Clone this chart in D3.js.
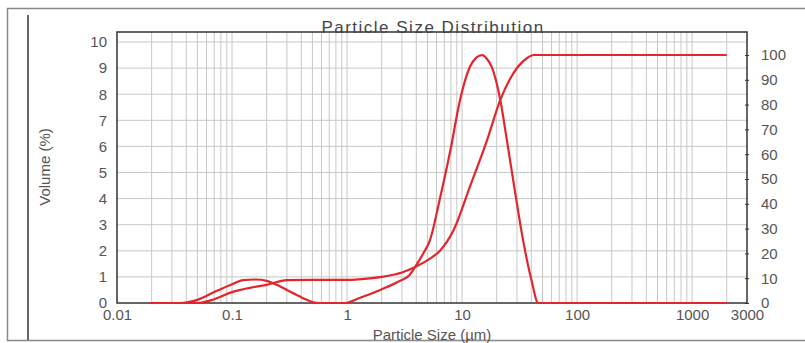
<!DOCTYPE html>
<html>
<head>
<meta charset="utf-8">
<script src="https://cdn.jsdelivr.net/npm/d3@7"></script>
<style>
  body { margin: 0; background: #fff; }
  text { font-family: "Liberation Sans", Arial, sans-serif; fill: #555; }
</style>
</head>
<body>
<script>
// particle size (um) and volume (%) for the frequency curve
const distSize = [0.019, 0.035, 0.05, 0.07, 0.1, 0.125, 0.16, 0.2, 0.25, 0.3, 0.4, 0.56, 0.96, 1.3, 1.94, 2.9, 3.5, 3.9, 4.6, 5.26, 6.38, 7.92, 9.6, 11.7, 13.3, 14.9, 16.5, 18.1, 21.5, 24.5, 28.7, 33.9, 40.1, 46, 100, 1000, 2000]
const distVol = [0, 0, 0.12, 0.42, 0.72, 0.88, 0.9, 0.85, 0.68, 0.5, 0.22, 0, 0, 0.2, 0.5, 0.85, 1.07, 1.38, 1.9, 2.41, 3.95, 5.86, 7.78, 9.05, 9.4, 9.5, 9.35, 9.05, 7.78, 6.25, 4.33, 2.41, 0.88, 0, 0, 0, 0]

// cumulative volume (%) on the right axis
const cumSize = [0.019, 0.05, 0.07, 0.1, 0.15, 0.2, 0.3, 0.5, 1.0, 1.5, 2.0, 3.0, 3.9, 5.3, 6.4, 8.45, 11.7, 16.5, 21.5, 27.9, 36.6, 42, 100, 1000, 2000]
const cumVol = [0, 0, 1.5, 4.4, 6.3, 7.3, 9.2, 9.3, 9.3, 9.8, 10.5, 12.3, 14.5, 18, 21, 29.4, 46.9, 65.7, 81.9, 92.6, 98.7, 100, 100, 100, 100]

const xTicks = [0.01, 0.1, 1, 10, 100, 1000, 3000]
const xTickLabels = ['0.01', '0.1', '1', '10', '100', '1000', '3000']
const yLeftTicks = [0, 1, 2, 3, 4, 5, 6, 7, 8, 9, 10]
const yRightTicks = [0, 10, 20, 30, 40, 50, 60, 70, 80, 90, 100]

const m = { left: 117, right: 747, top: 32, bottom: 303 }

const svg = d3.select('body').append('svg')
    .attr('width', 805)
    .attr('height', 343)

// outer frame: top, left and bottom edges only
svg.append('path')
    .attr('d', 'M805,8.5 H7.5 V340.5 H805')
    .attr('fill', 'none')
    .attr('stroke', '#888')
    .attr('stroke-width', 1.5)
svg.append('line')
    .attr('x1', 28).attr('x2', 28)
    .attr('y1', 15).attr('y2', 340)
    .attr('stroke', '#333')
    .attr('stroke-width', 1.5)

const x = d3.scaleLog()
    .domain([0.01, 3000])
    .range([m.left, m.right])

const y = d3.scaleLinear()
    .domain([0, 10])
    .range([m.bottom, 42])

const y2 = d3.scaleLinear()
    .domain([0, 100])
    .range([m.bottom, 55])

const g = svg.append('g')

// vertical grid: 1..9 per decade
const minor = []
for (let e = -2; e <= 3; e++) {
    for (let k = 1; k <= 9; k++) {
        const v = k * Math.pow(10, e)
        if (v > 0.01 && v < 3000) minor.push(v)
    }
}
g.selectAll('.vgrid')
    .data(minor)
    .enter()
    .append('line')
        .attr('x1', d => x(d)).attr('x2', d => x(d))
        .attr('y1', m.top).attr('y2', m.bottom)
        .attr('stroke', '#c8c8c8')
        .attr('stroke-width', 1)

g.selectAll('.hgrid')
    .data(yLeftTicks.slice(1))
    .enter()
    .append('line')
        .attr('x1', m.left).attr('x2', m.right)
        .attr('y1', d => y(d)).attr('y2', d => y(d))
        .attr('stroke', '#c8c8c8')
        .attr('stroke-width', 1)

// title sits on the top border
svg.append('text')
    .attr('x', 433).attr('y', 33)
    .attr('text-anchor', 'middle')
    .attr('font-size', 17)
    .attr('letter-spacing', 1.5)
    .style('fill', '#444')
    .text('Particle Size Distribution')

// plot frame
g.append('rect')
    .attr('x', m.left).attr('y', m.top)
    .attr('width', m.right - m.left)
    .attr('height', m.bottom - m.top)
    .attr('fill', 'none')
    .attr('stroke', '#333')
    .attr('stroke-width', 1.5)

// left axis labels
const leftAxis = d3.axisLeft(y).tickValues(yLeftTicks).tickSize(0).tickPadding(10)
const la = svg.append('g').attr('transform', `translate(${m.left},0)`).call(leftAxis)
la.select('.domain').remove()
la.selectAll('text').attr('font-size', 15).attr('font-family', null)

// right axis with small ticks on the frame
const rightAxis = d3.axisRight(y2).tickValues(yRightTicks).tickSizeInner(-4).tickSizeOuter(0).tickPadding(14)
const ra = svg.append('g').attr('transform', `translate(${m.right},0)`).call(rightAxis)
ra.select('.domain').remove()
ra.selectAll('line').attr('stroke', '#333').attr('transform', 'translate(2,0)')
ra.selectAll('text').attr('font-size', 15).attr('font-family', null)

// bottom axis labels
const bottomAxis = d3.axisBottom(x).tickValues(xTicks).tickFormat((d, i) => xTickLabels[i]).tickSize(0).tickPadding(6)
const ba = svg.append('g').attr('transform', `translate(0,${m.bottom})`).call(bottomAxis)
ba.select('.domain').remove()
ba.selectAll('text').attr('font-size', 15).attr('font-family', null)

svg.append('text')
    .attr('x', 432).attr('y', 340)
    .attr('text-anchor', 'middle')
    .attr('font-size', 15)
    .text('Particle Size (\u00b5m)')

svg.append('text')
    .attr('transform', 'translate(50,167) rotate(-90)')
    .attr('text-anchor', 'middle')
    .attr('font-size', 15)
    .text('Volume (%)')

// curves
const distLine = d3.line()
    .x((d, i) => x(distSize[i]))
    .y(d => y(d))
    .curve(d3.curveMonotoneX)

const cumLine = d3.line()
    .x((d, i) => x(cumSize[i]))
    .y(d => y2(d))
    .curve(d3.curveMonotoneX)

g.append('path')
    .attr('d', distLine(distVol))
    .attr('fill', 'none')
    .attr('stroke', '#e3262e')
    .attr('stroke-width', 2.2)

g.append('path')
    .attr('d', cumLine(cumVol))
    .attr('fill', 'none')
    .attr('stroke', '#e3262e')
    .attr('stroke-width', 2.2)
</script>
</body>
</html>
